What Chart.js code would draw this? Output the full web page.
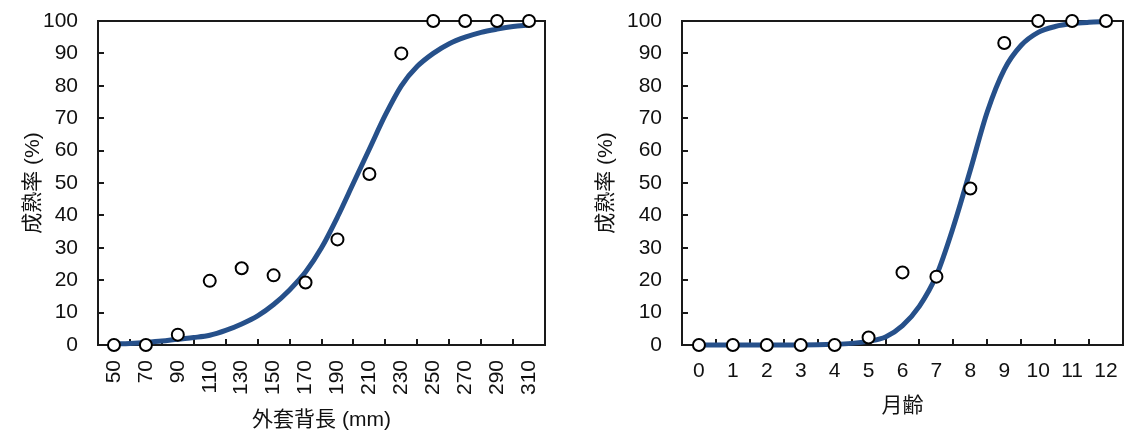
<!DOCTYPE html>
<html>
<head>
<meta charset="utf-8">
<script src="https://cdn.jsdelivr.net/npm/chart.js@4"></script>
<style>
  body { margin: 0; background: #fff; }
  .box { position: absolute; top: 0; height: 435px; }
</style>
</head>
<body>
<div class="box" style="left:0;width:565px"><canvas id="lengthChart"></canvas></div>
<div class="box" style="left:565px;width:566px"><canvas id="ageChart"></canvas></div>
<script>
// left panel: mantle length (mm)
const lengthCats = [50, 70, 90, 110, 130, 150, 170, 190, 210, 230, 250, 270, 290, 310];
const lengthRate = [0, 0, 3.2, 19.8, 23.7, 21.5, 19.3, 32.6, 52.8, 90, 100, 100, 100, 100];
const lengthFitX = [50, 60, 70, 80, 90, 100, 110, 120, 130, 140, 150, 160, 170, 180, 190, 200, 210, 220, 230, 240, 250, 260, 270, 280, 290, 300, 310];
const lengthFitY = [0.3, 0.5, 0.8, 1.2, 1.8, 2.3, 3, 4.5, 6.5, 9, 12.5, 17, 22.5, 30, 39.5, 50, 60.5, 71, 80, 86, 90, 93, 95, 96.5, 97.5, 98.3, 98.8];

// right panel: age in months
const ageCats = [0, 1, 2, 3, 4, 5, 6, 7, 8, 9, 10, 11, 12];
const ageRate = [0, 0, 0, 0, 0, 2.3, 22.4, 21.1, 48.3, 93.2, 100, 100, 100];
const ageFitX = [0, 1, 2, 3, 4, 4.5, 5, 5.5, 6, 6.5, 7, 7.5, 8, 8.5, 9, 9.5, 10, 10.5, 11, 11.5, 12];
const ageFitY = [0, 0, 0, 0, 0.2, 0.5, 1.2, 2.5, 6, 12, 21.5, 36.5, 54, 72, 85, 92.5, 96.5, 98.3, 99.2, 99.6, 99.8];

const yTicks = [0, 10, 20, 30, 40, 50, 60, 70, 80, 90, 100];

const FONT = "'Liberation Sans', 'Noto Sans CJK JP', Arial, sans-serif";
const INK = '#1a1a1a';
const CURVE = '#26508a';

// box around the plot area, drawn under the marks
const frame = {
  id: 'frame',
  beforeDatasetsDraw(chart) {
    const a = chart.chartArea, ctx = chart.ctx;
    ctx.save();
    ctx.strokeStyle = INK;
    ctx.lineWidth = 2;
    ctx.strokeRect(a.left, a.top, a.right - a.left, a.bottom - a.top);
    ctx.restore();
  }
};

function pairs(xs, ys) {
  return xs.map((x, i) => ({x: x, y: ys[i]}));
}

function makeChart(id, cfg) {
  new Chart(document.getElementById(id), {
    type: 'scatter',
    data: {
      datasets: [{
        data: pairs(cfg.cats, cfg.rate),
        backgroundColor: '#fff',
        borderColor: '#000',
        borderWidth: 2,
        pointRadius: 6,
        clip: false,
        order: 0
      }, {
        type: 'line',
        data: pairs(cfg.fitX, cfg.fitY),
        borderColor: CURVE,
        borderWidth: 5,
        pointRadius: 0,
        fill: false,
        cubicInterpolationMode: 'monotone',
        clip: false,
        order: 1
      }]
    },
    options: {
      responsive: true,
      maintainAspectRatio: false,
      animation: false,
      layout: {padding: {top: 21, right: cfg.padRight, left: 0, bottom: 0}},
      plugins: {legend: {display: false}, tooltip: {enabled: false}},
      scales: {
        x: {
          type: 'linear',
          min: cfg.xMin,
          max: cfg.xMax,
          afterBuildTicks: s => { s.ticks = cfg.cats.map(v => ({value: v})); },
          afterFit: s => { s.height = 90; s.paddingLeft = 0; s.paddingRight = 0; },
          border: {display: false},
          grid: {offset: true, drawOnChartArea: false, drawTicks: true, tickLength: -6, color: INK, lineWidth: 2},
          ticks: {
            autoSkip: false,
            minRotation: cfg.rotate,
            maxRotation: cfg.rotate,
            padding: cfg.rotate ? 21 : 20,
            color: '#111',
            font: {family: FONT, size: 21},
            callback: v => String(v)
          },
          title: {
            display: true,
            text: cfg.xTitle,
            color: '#111',
            font: {family: FONT, size: 21},
            padding: {top: 0, bottom: cfg.xTitlePad}
          }
        },
        y: {
          min: 0,
          max: 100,
          afterBuildTicks: s => { s.ticks = yTicks.map(v => ({value: v})); },
          afterFit: s => { s.width = cfg.yWidth; s.paddingTop = 0; s.paddingBottom = 0; },
          border: {display: false},
          grid: {drawOnChartArea: false, drawTicks: true, tickLength: -6, color: INK, lineWidth: 2},
          ticks: {
            padding: 26,
            color: '#111',
            font: {family: FONT, size: 21}
          },
          title: {
            display: true,
            text: '成熟率 (%)',
            color: '#111',
            font: {family: FONT, size: 21},
            padding: {top: cfg.yTitlePad, bottom: 0}
          }
        }
      }
    },
    plugins: [frame]
  });
}

makeChart('lengthChart', {
  cats: lengthCats, rate: lengthRate, fitX: lengthFitX, fitY: lengthFitY,
  xMin: 40, xMax: 320, rotate: 90,
  xTitle: '外套背長 (mm)', xTitlePad: 2,
  yWidth: 98, yTitlePad: 21, padRight: 20
});

makeChart('ageChart', {
  cats: ageCats, rate: ageRate, fitX: ageFitX, fitY: ageFitY,
  xMin: -0.5, xMax: 12.5, rotate: 0,
  xTitle: '月齢', xTitlePad: 16,
  yWidth: 117, yTitlePad: 29, padRight: 4
});
</script>
</body>
</html>
